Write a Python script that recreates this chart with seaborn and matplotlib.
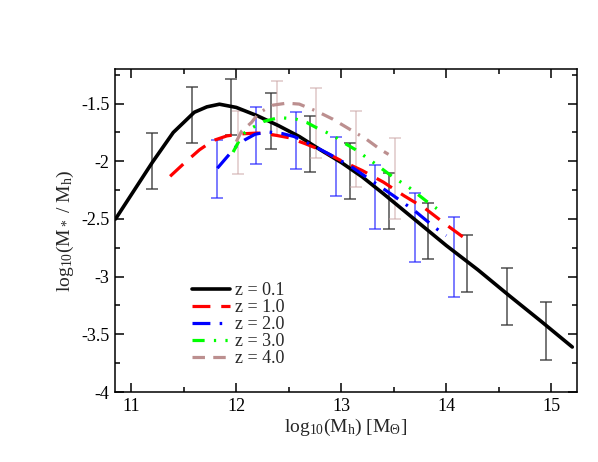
import numpy as np
import pandas as pd
import matplotlib
matplotlib.use("Agg")
import matplotlib.pyplot as plt
from matplotlib.ticker import MultipleLocator, FuncFormatter
from matplotlib.lines import Line2D
import seaborn as sns

# --- Style (Grace-like look) ---
sns.set_style("ticks")
plt.rcParams['font.family'] = ['Liberation Serif', 'DejaVu Serif']
plt.rcParams['mathtext.fontset'] = 'custom'
plt.rcParams['mathtext.rm'] = 'Liberation Serif'
plt.rcParams['mathtext.it'] = 'Liberation Serif:italic'
plt.rcParams['mathtext.default'] = 'regular'
plt.rcParams['axes.unicode_minus'] = False

# --- Model curves: log10(M*/Mh) vs log10(Mh) ---
x_z01 = [10.85, 11.0, 11.2, 11.4, 11.6, 11.72, 11.84, 12.0, 12.2, 12.4, 12.6, 12.8,
         13.0, 13.2, 13.4, 13.6, 13.8, 14.0, 14.3, 14.6, 14.9, 15.2]
y_z01 = [-2.50, -2.29, -2.01, -1.75, -1.575, -1.528, -1.505, -1.533, -1.605, -1.69, -1.785, -1.90,
         -2.01, -2.135, -2.28, -2.43, -2.58, -2.73, -2.94, -3.165, -3.385, -3.61]

x_z1 = [11.37, 11.5, 11.65, 11.78, 11.91, 12.05, 12.2, 12.35, 12.5, 12.65, 12.8,
        13.0, 13.2, 13.4, 13.6, 13.8, 14.0, 14.24]
y_z1 = [-2.13, -2.02, -1.90, -1.82, -1.78, -1.762, -1.755, -1.77, -1.795, -1.845, -1.90,
        -1.995, -2.08, -2.18, -2.30, -2.41, -2.55, -2.71]

x_z2 = [11.82, 11.9, 12.0, 12.08, 12.18, 12.3, 12.44, 12.55, 12.7, 12.9, 13.1, 13.3,
        13.5, 13.7, 13.9, 14.0]
y_z2 = [-2.06, -1.975, -1.87, -1.815, -1.765, -1.745, -1.76, -1.785, -1.85, -1.945, -2.05, -2.175,
        -2.30, -2.43, -2.58, -2.645]

x_z3 = [11.97, 12.06, 12.16, 12.26, 12.41, 12.57, 12.67, 12.76, 12.92, 13.02, 13.13,
        13.3, 13.48, 13.65, 13.81, 13.91]
y_z3 = [-1.92, -1.765, -1.705, -1.655, -1.62, -1.635, -1.663, -1.707, -1.775, -1.837, -1.896,
        -2.006, -2.128, -2.23, -2.345, -2.41]

x_z4 = [12.0, 12.05, 12.145, 12.22, 12.35, 12.48, 12.6, 12.7, 12.76, 12.92, 13.08,
        13.24, 13.37, 13.45]
y_z4 = [-1.83, -1.74, -1.663, -1.577, -1.513, -1.496, -1.504, -1.542, -1.563, -1.635, -1.722,
        -1.809, -1.896, -1.94]

# --- Error bars (lower / upper ends) ---
xe_z01 = [11.2, 11.58, 11.95, 12.33, 12.70, 13.08, 13.45, 13.83, 14.2, 14.58, 14.95]
lo_z01 = [-2.237, -1.837, -1.774, -1.896, -2.093, -2.324, -2.583, -2.85, -3.13, -3.423, -3.722]
hi_z01 = [-1.757, -1.357, -1.284, -1.411, -1.61, -1.843, -2.099, -2.36, -2.637, -2.924, -3.217]

xe_z2 = [11.82, 12.19, 12.57, 12.95, 13.32, 13.70, 14.07]
lo_z2 = [-2.316, -2.02, -2.063, -2.30, -2.585, -2.872, -3.177]
hi_z2 = [-1.817, -1.528, -1.571, -1.788, -2.03, -2.272, -2.48]

xe_z4 = [12.02, 12.39, 12.76, 13.14, 13.51]
lo_z4 = [-2.107, -1.78, -1.968, -2.22, -2.504]
hi_z4 = [-1.563, -1.302, -1.368, -1.566, -1.794]

labels = ["z = 0.1", "z = 1.0", "z = 2.0", "z = 3.0", "z = 4.0"]

# --- Figure ---
fig = plt.figure(figsize=(5.98, 4.62), dpi=100)
ax = fig.add_axes([0.1923, 0.1515, 0.7726, 0.6991])

def draw_bars(xs, lo, hi, color, alpha):
    xs, lo, hi = np.array(xs), np.array(lo), np.array(hi)
    mid = (lo + hi) / 2
    ax.errorbar(xs, mid, yerr=(hi - lo) / 2, fmt="none", ecolor=color, alpha=alpha,
                elinewidth=1.1, capsize=4.5, capthick=1.1, zorder=1)

draw_bars(xe_z01, lo_z01, hi_z01, "#333333", 0.85)
draw_bars(xe_z2, lo_z2, hi_z2, "#2020ff", 0.75)
draw_bars(xe_z4, lo_z4, hi_z4, "#c9a3a3", 0.6)

# --- Curves ---
curves = [
    (x_z01, y_z01, "black", 2.6, "-"),
    (x_z1, y_z1, "#ff0000", 2.3, (0, (5.6, 3.4))),
    (x_z2, y_z2, "#0000ff", 2.3, (0, (5.6, 2.9, 0.8, 2.9))),
    (x_z3, y_z3, "#00ff00", 2.3, (0, (3.8, 2.9, 0.7, 2.9, 0.7, 2.9))),
    (x_z4, y_z4, "#bc8f8f", 2.3, (0, (3.9, 2.6, 3.9, 2.6, 0.7, 2.6))),
]
handles = []
for (xs, ys, col, lw, ls), lab in zip(curves, labels):
    df = pd.DataFrame({"x": xs, "y": ys})
    sns.lineplot(data=df, x="x", y="y", color=col, linewidth=lw, linestyle=ls,
                 sort=False, ax=ax, zorder=3)
    handles.append(Line2D([], [], color=col, linewidth=lw, linestyle=ls))

# --- Axes ---
ax.set_xlim(10.845, 15.245)
ax.set_ylim(-4, -1.2)
ax.xaxis.set_major_locator(MultipleLocator(1))
ax.xaxis.set_minor_locator(MultipleLocator(0.5))
ax.yaxis.set_major_locator(MultipleLocator(0.5))
ax.yaxis.set_minor_locator(MultipleLocator(0.25))
ax.yaxis.set_major_formatter(FuncFormatter(lambda v, p: f"{v:g}"))
ax.tick_params(which="both", direction="in", top=True, right=True, width=1.1,
               labelsize=13, pad=4, colors="black")
ax.tick_params(which="major", length=6.5)
ax.tick_params(which="minor", length=3.3)
for s in ax.spines.values():
    s.set_linewidth(1.1)
    s.set_color("black")

ax.set_xlabel("log$_{10}$(M$_h$) [M$_Θ$]", fontsize=14, labelpad=2)
ax.set_ylabel("log$_{10}$(M$_*$ / M$_h$)", fontsize=14, labelpad=4)

leg = ax.legend(handles, labels, loc="lower left", bbox_to_anchor=(0.167, 0.077),
                frameon=False, fontsize=13, handlelength=2.1, handletextpad=0.3,
                labelspacing=0.0, borderaxespad=0, borderpad=0)

fig.savefig("out.png", dpi=100)
